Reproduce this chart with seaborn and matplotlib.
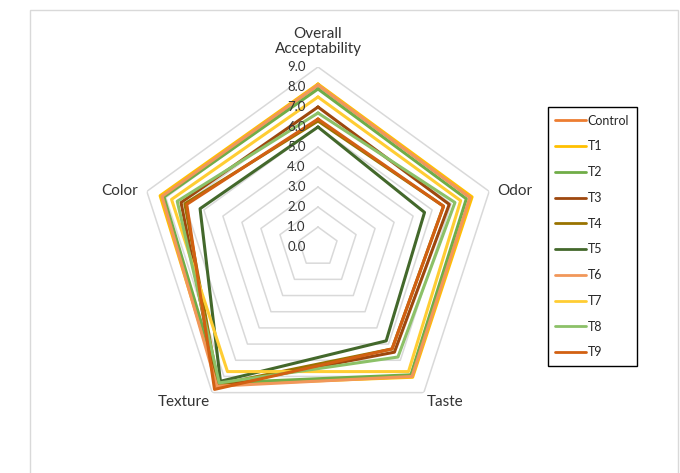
import numpy as np
import pandas as pd
import matplotlib
matplotlib.use("Agg")
import matplotlib.pyplot as plt
import seaborn as sns
from matplotlib.patches import Rectangle

# Sensory scores per sample
attributes = ["Overall\nAcceptability", "Odor", "Taste", "Texture", "Color"]
samples = ["Control", "T1", "T2", "T3", "T4", "T5", "T6", "T7", "T8", "T9"]

control = [8.1, 8.0, 8.0, 8.5, 8.2]
t1 = [8.15, 8.1, 8.05, 8.5, 8.3]
t2 = [7.9, 7.8, 7.9, 8.4, 8.1]
t3 = [7.0, 6.9, 6.5, 8.6, 7.2]
t4 = [6.3, 6.6, 6.3, 8.5, 7.0]
t5 = [6.0, 5.6, 5.8, 8.3, 6.2]
t6 = [8.1, 8.0, 8.0, 8.6, 8.2]
t7 = [7.5, 7.5, 7.7, 7.7, 7.7]
t8 = [6.7, 7.2, 6.8, 8.4, 7.4]
t9 = [6.4, 6.6, 6.3, 8.8, 6.9]

colors = ["#ED7D31", "#FFC000", "#70AD47", "#9E480E", "#997300",
          "#43682B", "#F1975A", "#FFCD33", "#8CC168", "#D26012"]

series = [control, t1, t2, t3, t4, t5, t6, t7, t8, t9]
n = len(attributes)
angles = np.linspace(0, 2 * np.pi, n, endpoint=False)
closed_angles = np.append(angles, 2 * np.pi)

rows = []
for name, vals in zip(samples, series):
    for a, v in zip(closed_angles, vals + vals[:1]):
        rows.append({"angle": a, "score": v, "Sample": name})
df = pd.DataFrame(rows)

sns.set_theme(style="white")
plt.rcParams["font.family"] = ["Lato", "DejaVu Sans"]

fig = plt.figure(figsize=(6.8, 4.73), dpi=100)
ax = fig.add_axes([138 / 680, 46 / 473, 360 / 680, 360 / 473], projection="polar")
ax.set_theta_zero_location("N")
ax.set_theta_direction(-1)

# pentagon gridlines
for r in range(1, 10):
    ax.plot(closed_angles, [r] * (n + 1), color="#D9D9D9", lw=1.1, zorder=1)

sns.lineplot(data=df, x="angle", y="score", hue="Sample", hue_order=samples,
             palette=colors, sort=False, estimator=None, lw=2.2, ax=ax, zorder=3)

ax.set_ylim(0, 9)
ax.grid(False)
ax.spines["polar"].set_visible(False)
ax.set_xticks([])
ax.set_yticks([])
ax.set_xlabel("")
ax.set_ylabel("")
ax.patch.set_alpha(0)

# radial tick labels
for r in range(0, 10):
    ax.annotate(f"{r:.1f}", xy=(0, r), xytext=(-9, 0), textcoords="offset points",
                ha="right", va="center", fontsize=9.5, color="#333333")

# category labels
label_cfg = [((0, 8), "center", "bottom"), ((6, 0), "left", "center"),
             ((2, -2), "left", "top"), ((-2, -2), "right", "top"),
             ((-6, 0), "right", "center")]
for a, lab, (off, ha, va) in zip(angles, attributes, label_cfg):
    ax.annotate(lab, xy=(a, 9), xytext=off, textcoords="offset points",
                ha=ha, va=va, fontsize=11, color="#333333",
                multialignment="center", linespacing=1.1)

handles, labels = ax.get_legend_handles_labels()
ax.legend_.remove()
fig.legend(handles, labels, loc="center", bbox_to_anchor=(592 / 680, 1 - 236.5 / 473),
           fontsize=9, labelspacing=1.1, handlelength=2.5, handletextpad=0.1,
           frameon=True, fancybox=False, edgecolor="black", framealpha=1,
           borderpad=0.6, borderaxespad=0)
leg = fig.legends[0]
leg.get_frame().set_linewidth(1.0)
for line in leg.get_lines():
    line.set_linewidth(2.0)

# chart border
fig.patches.append(Rectangle((30 / 680, -0.05), 648 / 680, 1.05 - 10 / 473,
                             transform=fig.transFigure, fill=False,
                             edgecolor="#D9D9D9", lw=1.0))

fig.savefig("out.png", dpi=100)
